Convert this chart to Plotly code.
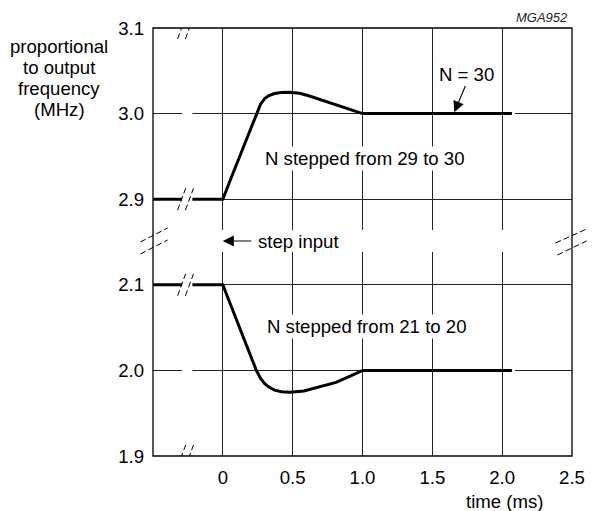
import plotly.graph_objects as go

# ---- data ----
t_up = [-0.5, 0, 0.05, 0.1, 0.15, 0.2, 0.24, 0.27, 0.3, 0.33, 0.37, 0.42, 0.48, 0.55, 0.62, 0.7, 0.8, 0.9, 1.0, 2.07]
f_up = [2.9, 2.9, 2.921, 2.942, 2.963, 2.983, 3.0, 3.011, 3.0175, 3.021, 3.0235, 3.0247, 3.025, 3.0237, 3.0205, 3.0162, 3.011, 3.0055, 3.0, 3.0]

t_lo = [-0.5, 0, 0.05, 0.1, 0.15, 0.2, 0.24, 0.27, 0.3, 0.33, 0.37, 0.42, 0.48, 0.58, 0.69, 0.81, 0.9, 1.0, 2.07]
f_lo = [2.1, 2.1, 2.079, 2.058, 2.037, 2.016, 2.0, 1.9905, 1.9845, 1.9805, 1.977, 1.975, 1.9745, 1.976, 1.9805, 1.986, 1.9925, 2.0, 2.0]

x_ticks = [0, 0.5, 1.0, 1.5, 2.0, 2.5]
x_ticktext = ["0", "0.5", "1.0", "1.5", "2.0", "2.5"]
y_up_ticks = [2.9, 3.0, 3.1]
y_lo_ticks = [1.9, 2.0, 2.1]

FONT = "Liberation Sans, Arial, sans-serif"
W, H = 597, 511
L, R, T, B = 153, 15, 28, 55


def px(xp):
    return (xp - L) / (W - L - R)


def py(yp):
    return (H - B - yp) / (H - T - B)


fig = go.Figure()
fig.add_trace(go.Scatter(x=t_up, y=f_up, mode="lines", line=dict(color="black", width=3),
                         xaxis="x", yaxis="y", showlegend=False, hoverinfo="skip"))
fig.add_trace(go.Scatter(x=t_lo, y=f_lo, mode="lines", line=dict(color="black", width=3),
                         xaxis="x", yaxis="y2", showlegend=False, hoverinfo="skip"))

grid = "#222222"
fig.update_layout(
    width=W, height=H,
    margin=dict(l=L, r=R, t=T, b=B),
    paper_bgcolor="white", plot_bgcolor="white",
    font=dict(family=FONT, size=18.6, color="black"),
    xaxis=dict(range=[-0.5, 2.5], tickvals=x_ticks, ticktext=x_ticktext, showgrid=True,
               gridcolor=grid, gridwidth=1, zeroline=False, showline=False, ticks="",
               anchor="y2", ticklabelstandoff=8),
    yaxis=dict(domain=[0.5, 1], range=[2.85, 3.1], tickvals=y_up_ticks,
               ticktext=["2.9", "3.0", "3.1"], showgrid=True, gridcolor=grid, gridwidth=1,
               zeroline=False, showline=False, ticks="", anchor="x", ticklabelstandoff=8),
    yaxis2=dict(domain=[0, 0.5], range=[1.9, 2.15], tickvals=y_lo_ticks,
                ticktext=["1.9", "2.0", "2.1"], showgrid=True, gridcolor=grid, gridwidth=1,
                zeroline=False, showline=False, ticks="", anchor="x", ticklabelstandoff=8),
)

shapes = []
# white band breaking the vertical gridlines
shapes.append(dict(type="rect", xref="x", yref="paper", x0=-0.48, x1=2.48,
                   y0=py(252), y1=py(230), fillcolor="white", line=dict(width=0), layer="above"))
# gaps in horizontal lines at the x-axis break
for yv, yr in [(3.0, "y"), (2.9, "y"), (2.0, "y2"), (2.1, "y2")]:
    shapes.append(dict(type="line", xref="x", yref=yr, x0=-0.292, x1=-0.218, y0=yv, y1=yv,
                       line=dict(color="white", width=5), layer="above"))
# small gap at the end of the data lines
for yv, yr in [(3.0, "y"), (2.0, "y2")]:
    shapes.append(dict(type="line", xref="x", yref=yr, x0=2.07, x1=2.092, y0=yv, y1=yv,
                       line=dict(color="white", width=3), layer="above"))
# "//" break marks on horizontal lines
dy = 11 / 855
for yv, yr in [(3.1, "y"), (2.9, "y"), (2.1, "y2"), (1.9, "y2")]:
    for x0 in [-0.324, -0.268]:
        shapes.append(dict(type="line", xref="x", yref=yr, x0=x0, x1=x0 + 0.058,
                           y0=yv - dy, y1=yv + dy,
                           line=dict(color="black", width=1, dash="6px,3px"), layer="above"))
# side break marks (paper)
for (x0p, y0p, x1p, y1p) in [(140, 242, 168, 228), (140, 254, 168, 240),
                             (565, 243, 597, 229), (567, 255, 597, 241)]:
    shapes.append(dict(type="line", xref="paper", yref="paper", x0=px(x0p), y0=py(y0p),
                       x1=px(x1p), y1=py(y1p),
                       line=dict(color="black", width=1, dash="6px,3px"), layer="above"))
# frame
shapes.append(dict(type="rect", xref="paper", yref="paper", x0=0, x1=1, y0=0, y1=1,
                   line=dict(color="black", width=1.3), fillcolor="rgba(0,0,0,0)", layer="above"))
fig.update_layout(shapes=shapes)

ann = []
# y-axis title lines
for txt, yp in [("proportional", 47), ("to output", 67), ("frequency", 88), ("(MHz)", 109)]:
    ann.append(dict(text=txt, xref="paper", yref="paper", x=px(57), y=py(yp),
                    xanchor="center", yanchor="middle", showarrow=False))
ann.append(dict(text="time (ms)", xref="paper", yref="paper", x=px(513), y=py(501),
                xanchor="center", yanchor="middle", showarrow=False))
ann.append(dict(text="<i>MGA952</i>", xref="paper", yref="paper", x=px(580), y=py(17),
                xanchor="right", yanchor="middle", showarrow=False,
                font=dict(size=13, color="#222")))
ann.append(dict(text="N stepped from 29 to 30", xref="x", yref="y", x=1.014, y=2.9474,
                xanchor="center", yanchor="middle", showarrow=False, bgcolor="white"))
ann.append(dict(text="N stepped from 21 to 20", xref="x", yref="y2", x=1.027, y=2.0515,
                xanchor="center", yanchor="middle", showarrow=False, bgcolor="white"))
ann.append(dict(text="N = 30", xref="x", yref="y", x=1.745, y=3.0456,
                xanchor="center", yanchor="middle", showarrow=False))
# N = 30 arrow
ann.append(dict(text="", xref="x", yref="y", x=1.657, y=3.0015, axref="x", ayref="y",
                ax=1.741, ay=3.034, showarrow=True, arrowhead=2, arrowsize=2.0,
                arrowwidth=1.1, arrowcolor="black", standoff=0))
# step input arrow
ann.append(dict(text="", xref="x", yref="paper", x=0, y=py(241), ax=30, ay=0,
                showarrow=True, arrowhead=2, arrowsize=2.0, arrowwidth=1.1,
                arrowcolor="black", standoff=0))
ann.append(dict(text="step input", xref="x", yref="paper", x=(258 - 224) / 143, y=py(241),
                xanchor="left", yanchor="middle", showarrow=False))
fig.update_layout(annotations=ann)

fig.write_html("out.html", config={"displayModeBar": False},
               post_script="document.body.style.margin='0';")
